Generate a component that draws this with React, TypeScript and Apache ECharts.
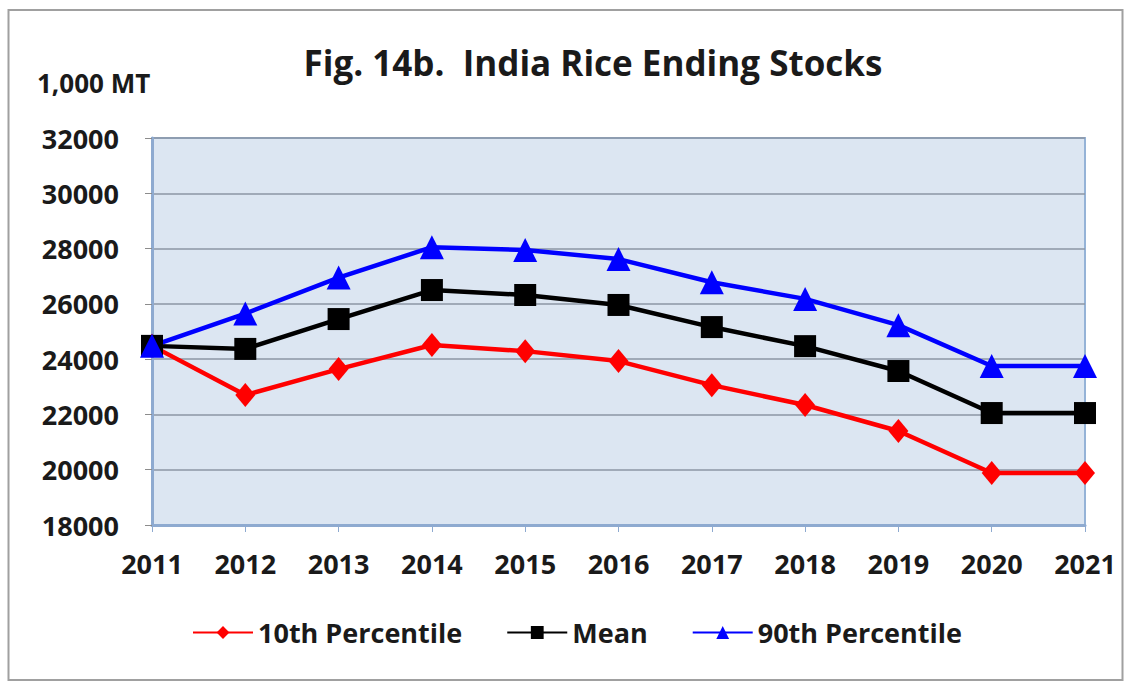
import React, { useEffect, useRef } from "react";
import * as echarts from "echarts";

const years = ["2011", "2012", "2013", "2014", "2015", "2016", "2017", "2018", "2019", "2020", "2021"];
const p10 = [24480, 22700, 23640, 24510, 24290, 23930, 23060, 22340, 21400, 19880, 19880];
const meanVals = [24480, 24370, 25450, 26500, 26320, 25960, 25160, 24470, 23570, 22050, 22050];
const p90 = [24480, 25650, 26950, 28050, 27950, 27620, 26780, 26180, 25230, 23750, 23750];
const seriesNames = ["10th Percentile", "Mean", "90th Percentile"];
const titleText = "Fig. 14b.  India Rice Ending Stocks";
const unitText = "1,000 MT";

const FONT = "'Open Sans', 'Noto Sans', sans-serif";

export default function App() {
  const ref = useRef<HTMLDivElement>(null);
  useEffect(() => {
    const chart = echarts.init(ref.current!, undefined, { renderer: "svg" });
    const mk = (name: string, data: number[], color: string, symbol: string, size: number | number[]) => ({
      name,
      type: "line",
      data,
      symbol,
      symbolSize: size,
      lineStyle: { color, width: 4.5 },
      itemStyle: { color },
      z: 3,
    });
    chart.setOption({
      animation: false,
      backgroundColor: "#ffffff",
      textStyle: { fontFamily: FONT },
      title: {
        text: titleText,
        left: 588,
        textAlign: "center",
        top: 40,
        textStyle: { fontFamily: FONT, fontSize: 35, fontWeight: "bold", color: "#1a1a1a" },
      },
      graphic: [
        {
          type: "rect",
          shape: { x: 8.5, y: 10, width: 1114, height: 670 },
          style: { fill: "none", stroke: "#a0a0a0", lineWidth: 2 },
          silent: true,
        },
        {
          type: "text",
          left: 37,
          top: 70,
          style: { text: unitText, font: `bold 26px ${FONT}`, fill: "#1a1a1a" },
        },
      ],
      legend: {
        data: seriesNames,
        top: 614,
        left: 187,
        itemWidth: 60,
        itemHeight: 16,
        itemGap: 44,
        textStyle: { fontFamily: FONT, fontSize: 27, fontWeight: "bold", color: "#1a1a1a" },
      },
      grid: {
        left: 152,
        right: 47,
        top: 138,
        bottom: 157,
        show: true,
        backgroundColor: "#dce6f2",
        borderColor: "#95b3d7",
        borderWidth: 2,
      },
      xAxis: {
        type: "category",
        data: years,
        boundaryGap: false,
        axisLine: { show: true, lineStyle: { color: "#8eaad0", width: 3 } },
        axisTick: { show: true, alignWithLabel: true, length: 7, lineStyle: { color: "#8eaad0", width: 1 } },
        axisLabel: { fontFamily: FONT, fontSize: 27, fontWeight: "bold", color: "#1a1a1a", margin: 25 },
        splitLine: { show: false },
      },
      yAxis: {
        type: "value",
        min: 18000,
        max: 32000,
        interval: 2000,
        axisLine: { show: true, lineStyle: { color: "#8eaad0", width: 3 } },
        axisTick: { show: true, length: 7, lineStyle: { color: "#8c8c8c" } },
        axisLabel: {
          fontFamily: FONT,
          fontSize: 27,
          fontWeight: "bold",
          color: "#1a1a1a",
          margin: 33,
          formatter: (v: number) => String(v),
        },
        splitLine: { show: true, lineStyle: { color: "#8c96a4", width: 1.5 } },
      },
      series: [
        mk(seriesNames[0], p10, "#ff0000", "diamond", [20, 24]),
        mk(seriesNames[1], meanVals, "#000000", "rect", 22),
        mk(seriesNames[2], p90, "#0000ff", "triangle", 24),
      ],
    });
    return () => chart.dispose();
  }, []);
  return (
    <div
      ref={ref}
      style={{ position: "absolute", left: 0, top: 0, width: 1132, height: 682 }}
    />
  );
}
